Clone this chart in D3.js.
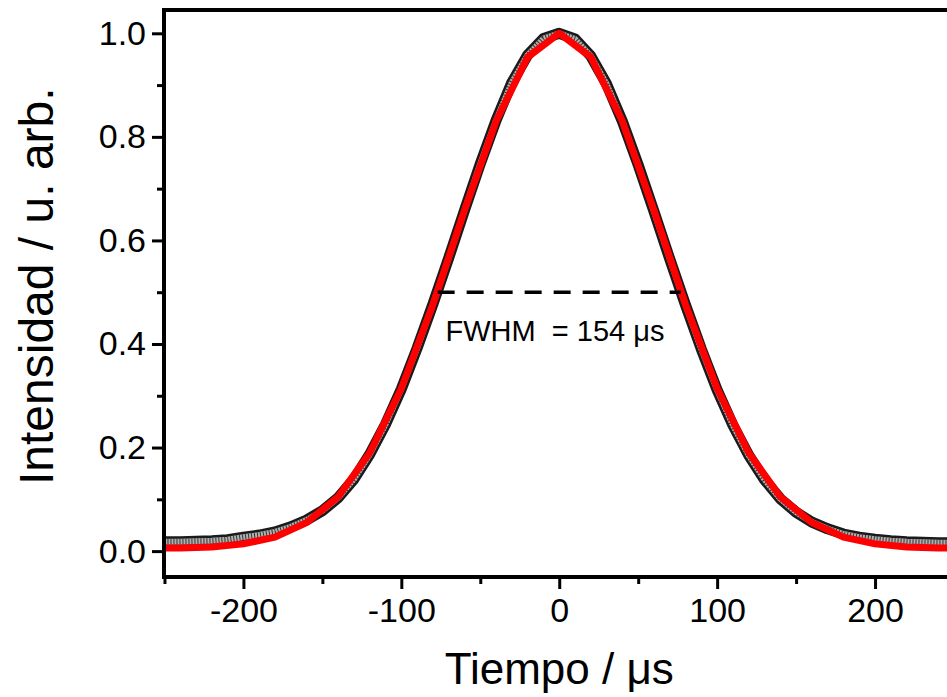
<!DOCTYPE html>
<html>
<head>
<meta charset="utf-8">
<script src="https://cdn.jsdelivr.net/npm/d3@7/dist/d3.min.js"></script>
<style>
  body { margin: 0; background: #fff; }
  text { font-family: "Liberation Sans", Arial, sans-serif; fill: #000; }
</style>
</head>
<body>
<div id="chart"></div>
<script>
var svgWidth = 947;
var svgHeight = 697;

var margin = { top: 10, right: -7, bottom: 120, left: 164 };
var width = svgWidth - margin.left - margin.right;
var height = svgHeight - margin.top - margin.bottom;

// measured signal (open circles), time in us
var dataTime = [-250, -240, -230, -220, -210, -200, -190, -180, -170, -160, -150, -140, -130, -120, -110, -100,
  -90, -80, -70, -60, -50, -40, -30, -20, -10, 0, 10, 20, 30, 40, 50, 60, 70, 80, 90, 100,
  110, 120, 130, 140, 150, 160, 170, 180, 190, 200, 210, 220, 230, 240, 250];
var dataValue = [0.018, 0.018, 0.019, 0.020, 0.022, 0.027, 0.031, 0.037, 0.047, 0.060, 0.078, 0.103, 0.139, 0.187, 0.245, 0.313,
  0.392, 0.477, 0.566, 0.658, 0.748, 0.832, 0.905, 0.958, 0.990, 1.000, 0.989, 0.956, 0.902, 0.830, 0.746, 0.656, 0.564, 0.475, 0.390, 0.311,
  0.243, 0.185, 0.138, 0.101, 0.075, 0.056, 0.043, 0.033, 0.027, 0.023, 0.020, 0.018, 0.017, 0.016, 0.016];

// fitted curve (red)
var fitTime = [-250, -240, -220, -200, -180, -160, -140, -120, -100, -80, -60, -40, -20, 0,
  20, 40, 60, 80, 100, 120, 140, 160, 180, 200, 220, 240, 250];
var fitValue = [0.006, 0.006, 0.008, 0.014, 0.027, 0.055, 0.105, 0.190, 0.314, 0.476, 0.658, 0.830, 0.954, 1.000,
  0.954, 0.830, 0.658, 0.476, 0.314, 0.190, 0.105, 0.055, 0.027, 0.014, 0.008, 0.006, 0.006];

// FWHM marker
var fwhmRange = [-77, 77];
var fwhmLevel = 0.5;
var fwhmLabel = "FWHM  = 154 \u03bcs";

var xTicks = [-200, -100, 0, 100, 200];
var xMinor = [-250, -150, -50, 50, 150, 250];
var yTicks = [0, 0.2, 0.4, 0.6, 0.8, 1.0];
var yMinor = [0.1, 0.3, 0.5, 0.7, 0.9];

var svg = d3.select("#chart")
  .append("svg")
  .attr("width", svgWidth)
  .attr("height", svgHeight);

var chartGroup = svg.append("g")
  .attr("transform", `translate(${margin.left}, ${margin.top})`);

var x = d3.scaleLinear().domain([-250.3, 250]).range([0, width]);
var y = d3.scaleLinear().domain([-0.05, 1.045]).range([height, 0]);

var dataPts = dataTime.map((t, i) => [t, dataValue[i]]);
var fitPts = fitTime.map((t, i) => [t, fitValue[i]]);

var line = d3.line().x(d => x(d[0])).y(d => y(d[1]));

// data band: dark outline, grey core, hatched by a dashed stroke
chartGroup.append("path")
  .datum(dataPts)
  .attr("d", line)
  .attr("fill", "none")
  .attr("stroke", "#1a1a1a")
  .attr("stroke-width", 11)
  .attr("stroke-linejoin", "round");

chartGroup.append("path")
  .datum(dataPts)
  .attr("d", line)
  .attr("fill", "none")
  .attr("stroke", "#b0b0b0")
  .attr("stroke-width", 6)
  .attr("stroke-linejoin", "round");

chartGroup.append("path")
  .datum(dataPts)
  .attr("d", line)
  .attr("fill", "none")
  .attr("stroke", "#333")
  .attr("stroke-width", 6)
  .attr("stroke-dasharray", "1,2");

// fit line
chartGroup.append("path")
  .datum(fitPts)
  .attr("d", line)
  .attr("fill", "none")
  .attr("stroke", "#ff0000")
  .attr("stroke-width", 7)
  .attr("stroke-linejoin", "round");

// FWHM dashed line + label
chartGroup.append("line")
  .attr("x1", x(fwhmRange[0]))
  .attr("x2", x(fwhmRange[1]))
  .attr("y1", y(fwhmLevel))
  .attr("y2", y(fwhmLevel))
  .attr("stroke", "#000")
  .attr("stroke-width", 3.5)
  .attr("stroke-dasharray", "17,12");

chartGroup.append("text")
  .attr("x", x(-72))
  .attr("y", y(fwhmLevel) + 49)
  .attr("font-size", "29px")
  .style("white-space", "pre")
  .text(fwhmLabel);

// axes
var bottomAxis = d3.axisBottom(x).tickValues(xTicks).tickSize(12).tickPadding(9).tickFormat(d => d);
var bottomMinor = d3.axisBottom(x).tickValues(xMinor).tickSize(7).tickFormat("");
var leftAxis = d3.axisLeft(y).tickValues(yTicks).tickSize(12).tickPadding(6).tickFormat(d3.format(".1f"));
var leftMinor = d3.axisLeft(y).tickValues(yMinor).tickSize(7).tickFormat("");

function styleAxis(g) {
  g.select(".domain").remove();
  g.selectAll(".tick line").attr("stroke", "#000").attr("stroke-width", 3);
  g.selectAll(".tick text").attr("font-size", "34px").attr("fill", "#000")
    .attr("font-family", "'Liberation Sans', Arial, sans-serif");
}

chartGroup.append("g").attr("transform", `translate(0, ${height})`).call(bottomAxis).call(styleAxis);
chartGroup.append("g").attr("transform", `translate(0, ${height})`).call(bottomMinor).call(styleAxis);
chartGroup.append("g").call(leftAxis).call(styleAxis);
chartGroup.append("g").call(leftMinor).call(styleAxis);

// frame
chartGroup.append("rect")
  .attr("x", 0)
  .attr("y", 0)
  .attr("width", width)
  .attr("height", height)
  .attr("fill", "none")
  .attr("stroke", "#000")
  .attr("stroke-width", 4);

// axis titles
chartGroup.append("text")
  .attr("x", x(0))
  .attr("y", height + 107)
  .attr("text-anchor", "middle")
  .attr("font-size", "44px")
  .text("Tiempo / \u03bcs");

chartGroup.append("text")
  .attr("transform", "rotate(-90)")
  .attr("x", -y(0.5) + 6)
  .attr("y", -margin.left + 53)
  .attr("text-anchor", "middle")
  .attr("font-size", "48px")
  .text("Intensidad / u. arb.");
</script>
</body>
</html>
